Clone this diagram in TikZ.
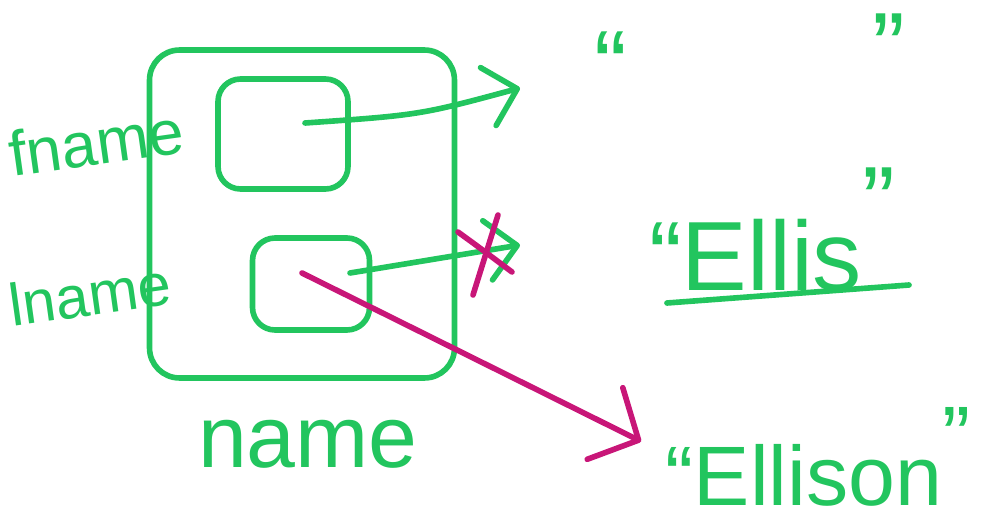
\documentclass[tikz,border=0pt]{standalone}
\usepackage{fontspec}
\setmainfont{Liberation Sans}
\usepackage{xcolor}
\usetikzlibrary{arrows.meta,calc}

\definecolor{ink}{RGB}{34,197,94}
\definecolor{fix}{RGB}{200,22,120}

\begin{document}
\begin{tikzpicture}[x=0.02cm,y=-0.02cm]
  \tikzset{
    Pen/.style = {line width=3.2pt, line cap=round, line join=round},
    BoxStyle/.style = {Pen, draw=ink, rounded corners=0.6cm},
    CellStyle/.style = {Pen, draw=ink, rounded corners=0.45cm},
    LabelStyle/.style = {text=ink, inner sep=1pt},
    PtrStyle/.style = {Pen, draw=ink,
      -{Straight Barb[length=0.6cm, width=1.2cm, round]}},
    FixStyle/.style = {Pen, draw=fix}
  }
  \useasboundingbox (0,0) rectangle (992,528);

  % the struct and its two fields
  \node[BoxStyle, minimum width=6.1cm, minimum height=6.56cm] (name) at (302,214) {};
  \node[CellStyle, minimum width=2.6cm, minimum height=2.2cm] (fname) at (283,134) {};
  \node[CellStyle, minimum width=2.34cm, minimum height=1.84cm] (lname) at (311,284) {};

  \node[LabelStyle, rotate=8, font=\fontsize{36}{36}\selectfont] (fnameLabel) at (96,142) {fname};
  \node[LabelStyle, rotate=8, font=\fontsize{34}{34}\selectfont] (lnameLabel) at (90,294) {lname};
  \node[LabelStyle, font=\fontsize{50}{50}\selectfont] (nameLabel) at (308,444) {name};

  % the strings
  \node[LabelStyle, anchor=base, font=\fontsize{56}{56}\selectfont] (empty) at (750,99)
    {``\hspace{4.9cm}\raisebox{0.35cm}{''}};
  \node[LabelStyle, anchor=base, font=\fontsize{56}{56}\selectfont] (ellis) at (772,290)
    {``Ellis\raisebox{1.1cm}{''}};
  \node[LabelStyle, anchor=base, font=\fontsize{48}{48}\selectfont] (ellison) at (818,505)
    {``Ellison\raisebox{0.8cm}{''}};
  \draw[Pen, draw=ink] ($(ellis.base west)+(20,13)$) -- ($(ellis.base east)+(12,-5)$);

  % pointers
  \coordinate (fptr) at (305,123);
  \coordinate (fend) at (520,88);
  \coordinate (lptr) at (350,273);
  \coordinate (lend) at (520,245);
  \coordinate (newptr) at (302,273);
  \draw[PtrStyle] (fptr) .. controls (420,115) .. (fend);
  \draw[PtrStyle] (lptr) -- (lend);

  % old pointer crossed out, new one
  \coordinate (cross) at (485,258);
  \draw[FixStyle] ($(cross)+(-27,-26)$) .. controls ($(cross)+(-5,-10)$) .. ($(cross)+(27,14)$);
  \draw[FixStyle] ($(cross)+(13,-43)$) -- ($(cross)+(-12,37)$);
  \draw[FixStyle, -{Straight Barb[length=0.75cm, width=1.6cm, round]}]
    (newptr) -- ([shift={(-0.45cm,0.3cm)}]ellison.west);
\end{tikzpicture}
\end{document}
